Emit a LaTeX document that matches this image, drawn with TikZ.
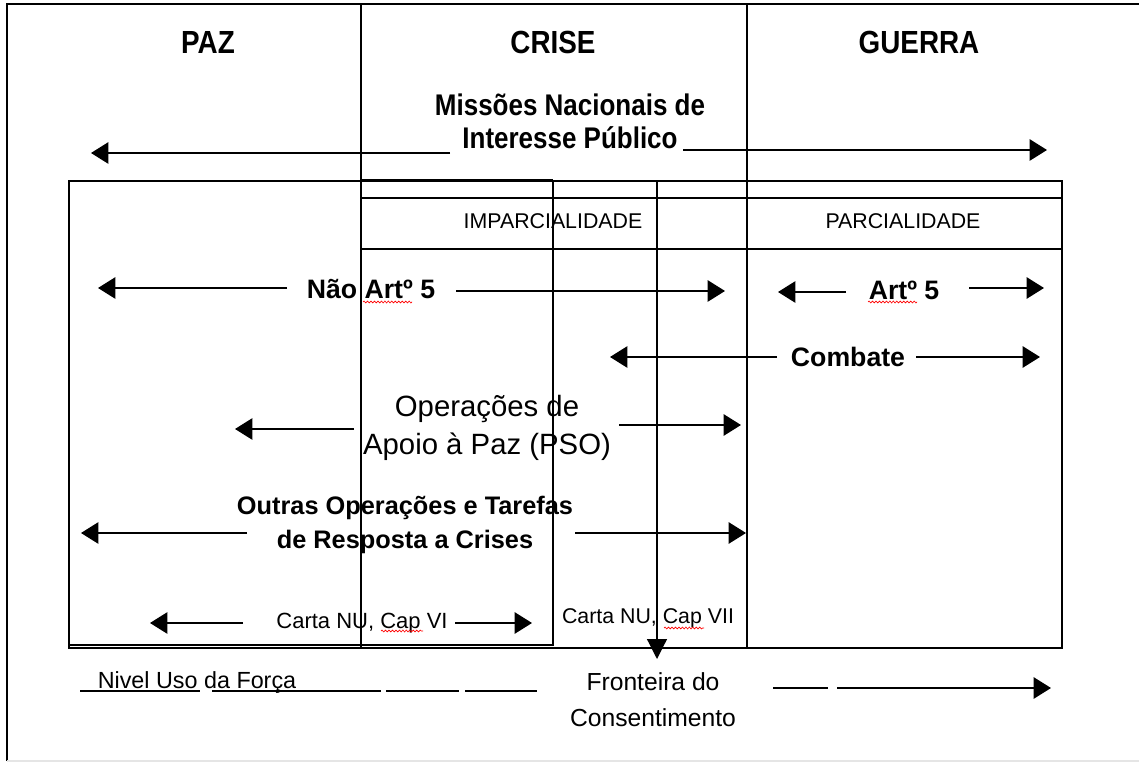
\documentclass[tikz,border=0pt]{standalone}
\usepackage{fontspec}
\setmainfont{Liberation Sans}
\newfontfamily\narrowsans[FakeStretch=0.87]{Liberation Sans}
\usetikzlibrary{positioning, arrows.meta, decorations.pathmorphing}

\begin{document}
\begin{tikzpicture}[
          x=0.75pt, y=-0.75pt,
          rule/.style={line width=0.9pt},
          arr/.style={line width=1.2pt, -{Triangle[length=13pt,width=16pt]}},
          phase/.style={font=\narrowsans\bfseries\fontsize{24}{28}\selectfont, inner sep=0pt},
          oplabel/.style={font=\bfseries\fontsize{20}{25}\selectfont, align=center, inner sep=0pt},
          plain/.style={font=\fontsize{16}{20}\selectfont, align=center, inner sep=0pt},
          spell/.style={red, line width=0.5pt, decorate, decoration={snake, amplitude=0.7pt, segment length=2.6pt}}
        ]
        \useasboundingbox (0,0) rectangle (1139,762);
        % frame and columns
        \draw[rule] (1139,4) -- (7,4) -- (7,761);
        \draw[gray!20, line width=1pt] (7,761) -- (1139,761);
        \draw[rule] (361,4) -- (361,648);
        \draw[rule] (747,4) -- (747,648);
        \draw[rule] (69,181) rectangle (1062,648);
        \draw[line width=1.6pt] (361,180) -- (553,180);
        \draw[rule] (361,198) -- (1062,198);
        \draw[rule] (361,249) -- (1062,249);
        \draw[rule] (553,181) -- (553,645) -- (69,645);
        \coordinate (limTop) at (657,181);
        \coordinate (limTip) at (657,659);
        \draw[rule, -{Triangle[length=15pt,width=15pt]}] (limTop) -- (limTip);

        \node[phase] (paz) at (208,42) {PAZ};
        \node[phase] (crise) at (553,42) {CRISE};
        \node[phase] (guerra) at (919,42) {GUERRA};

        \node[oplabel, font=\narrowsans\bfseries\fontsize{22.4}{25}\selectfont] (missoes) at (570,121) {Missões Nacionais de\\Interesse Público};
        \coordinate (missoesL) at (450,153);
        \coordinate (missoesLtip) at (91,153);
        \coordinate (missoesR) at (683,150);
        \coordinate (missoesRtip) at (1047,150);
        \draw[arr] (missoesL) -- (missoesLtip);
        \draw[arr] (missoesR) -- (missoesRtip);

        \node[plain] (imparc) at (553,221) {IMPARCIALIDADE};
        \node[plain] (parc) at (903,221) {PARCIALIDADE};

        \node[oplabel] (naoart) at (371,289) {Não Artº 5};
        \coordinate (naoartL) at (287,288);
        \coordinate (naoartLtip) at (98,288);
        \coordinate (naoartR) at (456,291);
        \coordinate (naoartRtip) at (725,291);
        \draw[arr] (naoartL) -- (naoartLtip);
        \draw[arr] (naoartR) -- (naoartRtip);
        \draw[spell] (363,302) -- (412,302);

        \node[oplabel] (art) at (904,290) {Artº 5};
        \coordinate (artL) at (846,292);
        \coordinate (artLtip) at (778,292);
        \coordinate (artR) at (969,288);
        \coordinate (artRtip) at (1044,288);
        \draw[arr] (artL) -- (artLtip);
        \draw[arr] (artR) -- (artRtip);
        \draw[spell] (868,302) -- (917,302);

        \node[oplabel] (combate) at (848,357) {Combate};
        \coordinate (combateL) at (777,357);
        \coordinate (combateLtip) at (610,357);
        \coordinate (combateR) at (916,357);
        \coordinate (combateRtip) at (1040,357);
        \draw[arr] (combateL) -- (combateLtip);
        \draw[arr] (combateR) -- (combateRtip);

        \node[plain, font=\fontsize{22}{28}\selectfont] (pso) at (487,428) {Operações de\\Apoio à Paz (PSO)};
        \coordinate (psoL) at (354,429);
        \coordinate (psoLtip) at (235,429);
        \coordinate (psoR) at (619,425);
        \coordinate (psoRtip) at (741,425);
        \draw[arr] (psoL) -- (psoLtip);
        \draw[arr] (psoR) -- (psoRtip);

        \node[oplabel, font=\bfseries\fontsize{19}{25.5}\selectfont] (outras) at (405,525) {Outras Operações e Tarefas\\de Resposta a Crises};
        \coordinate (outrasL) at (247,533);
        \coordinate (outrasLtip) at (81,533);
        \coordinate (outrasR) at (575,533);
        \coordinate (outrasRtip) at (746,533);
        \draw[arr] (outrasL) -- (outrasLtip);
        \draw[arr] (outrasR) -- (outrasRtip);

        \node[plain, font=\fontsize{16.5}{20}\selectfont] (cartavi) at (362,623) {Carta NU, Cap VI};
        \coordinate (cartaviL) at (243,623);
        \coordinate (cartaviLtip) at (150,623);
        \coordinate (cartaviR) at (455,623);
        \coordinate (cartaviRtip) at (532,623);
        \draw[arr] (cartaviL) -- (cartaviLtip);
        \draw[arr] (cartaviR) -- (cartaviRtip);
        \draw[spell] (381,631) -- (423,631);

        \node[plain] (cartavii) at (648,618) {Carta NU, Cap VII};
        \draw[spell] (664,628) -- (704,628);

        \node[plain, font=\fontsize{17.5}{20}\selectfont] (nivel) at (197,683) {Nivel Uso da Força};
        \draw[line width=1pt] (80,691) -- (200,691) (212,691) -- (381,691)
          (386,691) -- (459,691) (465,691) -- (537,691);

        \node[plain, font=\fontsize{18.5}{27}\selectfont] (fronteira) at (653,700) {Fronteira do\\Consentimento};
        \coordinate (forcaA) at (773,688);
        \coordinate (forcaB) at (828,688);
        \coordinate (forcaC) at (837,688);
        \coordinate (forcaTip) at (1051,688);
        \draw[line width=1.2pt] (forcaA) -- (forcaB);
        \draw[arr] (forcaC) -- (forcaTip);
        \end{tikzpicture}
\end{document}
